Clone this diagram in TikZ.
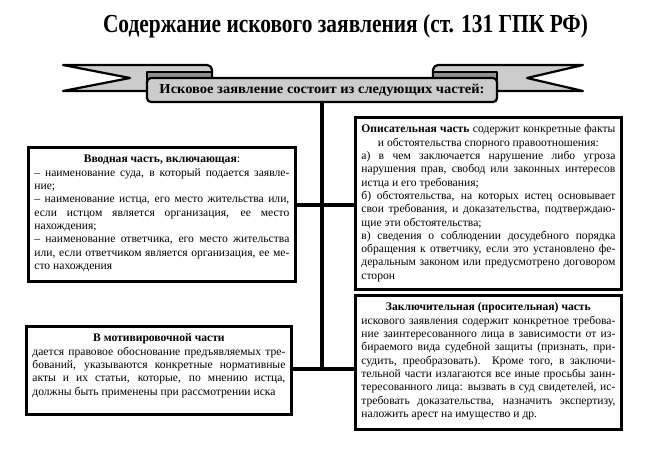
\documentclass[tikz,border=0pt]{standalone}
\usepackage{fontspec}
\setmainfont{Liberation Serif}[Ligatures = TeX]
\usepackage{graphicx}
\usetikzlibrary{positioning}
\definecolor{ribbongray}{gray}{0.80}
\definecolor{foldgray}{gray}{0.56}
\tikzset{part/.style = {draw, line width = 2.8pt, inner xsep = 6pt, inner ysep = 0, anchor = north west}}
\tikzset{link/.style = {line width = 3.5pt}}
\tikzset{ribbon/.style = {draw, fill = ribbongray, line width = 2.2pt, line join = round}}
\newcommand{\jline}[1]{\sbox0{#1}\ifdim\wd0>\linewidth\resizebox{\linewidth}{\height}{#1}\else\makebox[\linewidth][s]{#1}\fi\par}
\newcommand{\firstrule}{\rule{0pt}{15.5pt}}
\newcommand{\parttext}[3]{\begin{minipage}[c][#2pt][t]{#1pt}\fontsize{11.6}{13.3}\selectfont #3\end{minipage}}

\begin{document}
\begin{tikzpicture}[x = 1pt, y = -1pt]
    \useasboundingbox (0, 0) rectangle (668, 452);
    \node (title) [anchor = base] at (345.5, 32) {\resizebox{485pt}{\height}{\fontsize{26}{30}\selectfont\bfseries Содержание искового заявления (ст. 131 ГПК РФ)}};
    % ribbon
    \draw [ribbon] (63, 65) [rounded corners = 5] -- (212, 65) -- (212, 91) [sharp corners] -- (63, 91) -- (130, 78) -- cycle;
    \draw [ribbon] (583, 65) [rounded corners = 5] -- (433, 65) -- (433, 91) [sharp corners] -- (583, 91) -- (527, 78) -- cycle;
    \draw [ribbon, fill = foldgray] (147, 72) -- (212, 72) -- (212, 80) -- (147, 80) -- cycle;
    \draw [ribbon, fill = foldgray] (497, 72) -- (433, 72) -- (433, 80) -- (497, 80) -- cycle;
    \node (banner) [ribbon, rounded corners = 4, minimum width = 350pt, minimum height = 24pt, inner sep = 0] at (322, 90)
      {\raisebox{-1pt}{\resizebox{325pt}{\height}{\fontsize{13.7}{16}\selectfont\bfseries Исковое заявление состоит из следующих частей:}}};
    \coordinate (j1) at (322, 205);
    \coordinate (j2) at (322, 369);
    \node (intro) [part] at (27, 146) {\parttext{255}{134}{%
      {\centering\firstrule\textbf{Вводная часть, включающая}:\par}
      \jline{– наименование суда, в который подается заявле-}
      ние;\par
      \jline{– наименование истца, его место жительства или,}
      \jline{если истцом является организация, ее место}
      нахождения;\par
      \jline{– наименование ответчика, его место жительства}
      \jline{или, если ответчиком является организация, ее ме-}
      сто нахождения\par}};
    \node (descr) [part] at (354, 116) {\parttext{254}{172}{%
      \jline{\firstrule\textbf{Описательная часть} содержит конкретные факты}
      {\centering и обстоятельства спорного правоотношения:\par}
      \jline{а) в чем заключается нарушение либо угроза}
      \jline{нарушения прав, свобод или законных интересов}
      истца и его требования;\par
      \jline{б) обстоятельства, на которых истец основывает}
      \jline{свои требования, и доказательства, подтверждаю-}
      щие эти обстоятельства;\par
      \jline{в) сведения о соблюдении досудебного порядка}
      \jline{обращения к ответчику, если это установлено фе-}
      \jline{деральным законом или предусмотрено договором}
      сторон\par}};
    \node (motiv) [part] at (25, 325) {\parttext{253}{88}{%
      {\centering\firstrule\textbf{В мотивировочной части}\par}
      \jline{дается правовое обоснование предъявляемых тре-}
      \jline{бований, указываются конкретные нормативные}
      \jline{акты и их статьи, которые, по мнению истца,}
      должны быть применены при рассмотрении иска\par}};
    \node (concl) [part] at (354, 294) {\parttext{254}{134}{%
      {\centering\firstrule\textbf{Заключительная (просительная) часть}\par}
      \jline{искового заявления содержит конкретное требова-}
      \jline{ние заинтересованного лица в зависимости от из-}
      \jline{бираемого вида судебной защиты (признать, при-}
      \jline{судить, преобразовать). Кроме того, в заключи-}
      \jline{тельной части излагаются все иные просьбы заин-}
      \jline{тересованного лица: вызвать в суд свидетелей, ис-}
      \jline{требовать доказательства, назначить экспертизу,}
      наложить арест на имущество и др.\par}};
    \draw [link] (banner.south) -- (j2);
    \draw [link] (intro.east |- j1) -- (descr.west |- j1);
    \draw [link] (motiv.east |- j2) -- (concl.west |- j2);
\end{tikzpicture}
\end{document}
